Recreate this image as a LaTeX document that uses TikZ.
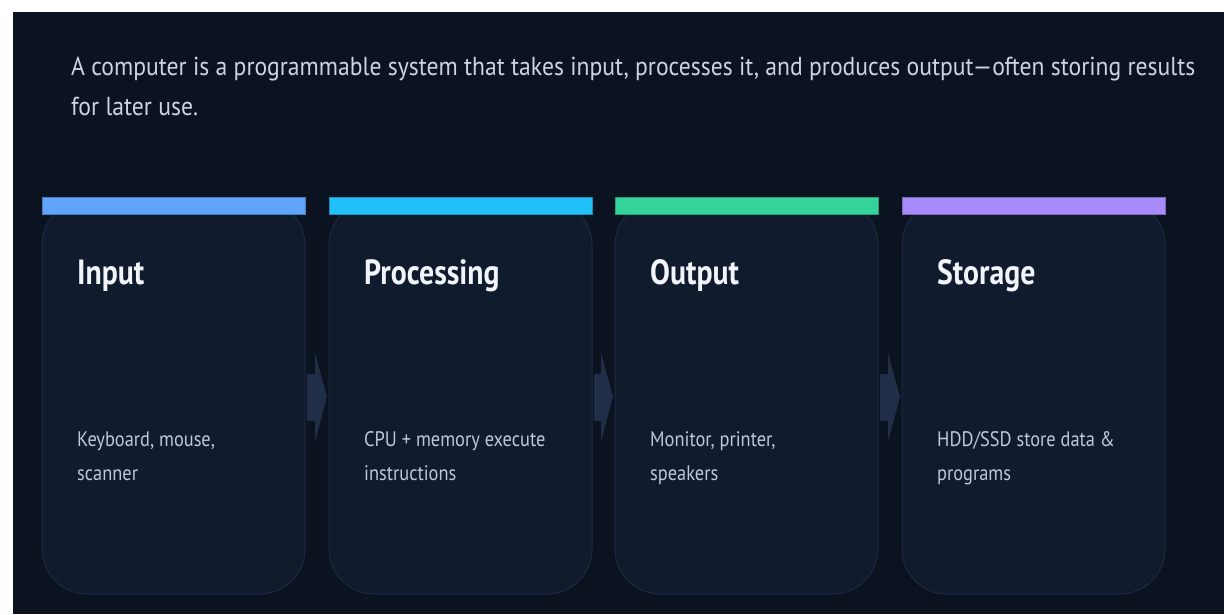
\documentclass[tikz,border=0pt]{standalone}
\usepackage{fontspec}
\setmainfont{PT Sans}[FakeStretch=0.85]
\newfontfamily\introfont{PT Sans}[FakeStretch=0.91]
\newfontfamily\descfont{PT Sans}[FakeStretch=0.875]
\usepackage{tikz}
\usetikzlibrary{positioning,calc,arrows.meta}

\definecolor{pagebg}{RGB}{11,18,32}
\definecolor{cardfill}{RGB}{17,27,46}
\definecolor{cardline}{RGB}{30,41,66}
\definecolor{flowfill}{RGB}{33,46,72}
\definecolor{introtext}{RGB}{203,213,225}
\definecolor{headtext}{RGB}{241,245,249}
\definecolor{desctext}{RGB}{190,200,214}
\definecolor{barin}{RGB}{96,165,250}
\definecolor{barproc}{RGB}{34,193,250}
\definecolor{barout}{RGB}{52,211,153}
\definecolor{barstore}{RGB}{167,139,250}

\tikzset{
    card/.style={draw=cardline, fill=cardfill, line width=1pt, rounded corners=45pt,
        minimum width=263pt, minimum height=394pt, inner sep=0pt, outer sep=0pt},
    topbar/.style={fill=#1, draw=#1!75!black, line width=0.6pt},
    heading/.style={anchor=base west, inner sep=0pt, text=headtext,
        font=\fontsize{35}{40}\selectfont\bfseries},
    desc/.style={anchor=base west, inner sep=0pt, align=left, text=desctext,
        font=\descfont\fontsize{21}{34}\selectfont},
    flow/.style={draw=flowfill, line width=47pt,
        -{Triangle[length=12pt, width=89pt, line width=0pt]}}
}

\begin{document}
\begin{tikzpicture}[x=1pt, y=-1pt]
    %frame
    \useasboundingbox (0,0) rectangle (1224,614);
    \fill[white] (0,0) rectangle (1224,614);
    \fill[pagebg] (13,12) rectangle (1224,614);

    %coordinates
    \coordinate (orig) at (42,200);
    \coordinate (T) at (71,115);

    %nodes
    \node[anchor=base west, inner sep=0pt, align=left, text=introtext,
        font=\introfont\fontsize{26}{40}\selectfont] (intro) at (T)
        {A computer is a programmable system that takes input, processes it, and produces output—often storing results\\for later use.};

    \node[card, anchor=north west] (in) at (orig) {};
    \node[card, right=24pt of in] (proc) {};
    \node[card, right=23pt of proc] (out) {};
    \node[card, right=24pt of out] (store) {};

    \draw[topbar=barin] ($(in.north west)+(0,-3)$) rectangle ($(in.north east)+(0,14)$);
    \draw[topbar=barproc] ($(proc.north west)+(0,-3)$) rectangle ($(proc.north east)+(0,14)$);
    \draw[topbar=barout] ($(out.north west)+(0,-3)$) rectangle ($(out.north east)+(0,14)$);
    \draw[topbar=barstore] ($(store.north west)+(0,-3)$) rectangle ($(store.north east)+(0,14)$);

    \node[heading] (inT) at ($(in.north west)+(35,84)$) {Input};
    \node[heading] (procT) at ($(proc.north west)+(35,84)$) {Processing};
    \node[heading] (outT) at ($(out.north west)+(35,84)$) {Output};
    \node[heading] (storeT) at ($(store.north west)+(35,84)$) {Storage};

    % base anchor sits on the last line
    \node[desc] (inD) at ($(in.north west)+(35,280)$) {Keyboard, mouse,\\scanner};
    \node[desc] (procD) at ($(proc.north west)+(35,280)$) {CPU + memory execute\\instructions};
    \node[desc] (outD) at ($(out.north west)+(35,280)$) {Monitor, printer,\\speakers};
    \node[desc] (storeD) at ($(store.north west)+(35,280)$) {HDD/SSD store data \&\\programs};

    %edges
    \draw[flow] ([xshift=2pt]in.east) -- ([xshift=-2pt]proc.west);
    \draw[flow] ([xshift=2pt]proc.east) -- ([xshift=-2pt]out.west);
    \draw[flow] ([xshift=2pt]out.east) -- ([xshift=-2pt]store.west);
\end{tikzpicture}
\end{document}
